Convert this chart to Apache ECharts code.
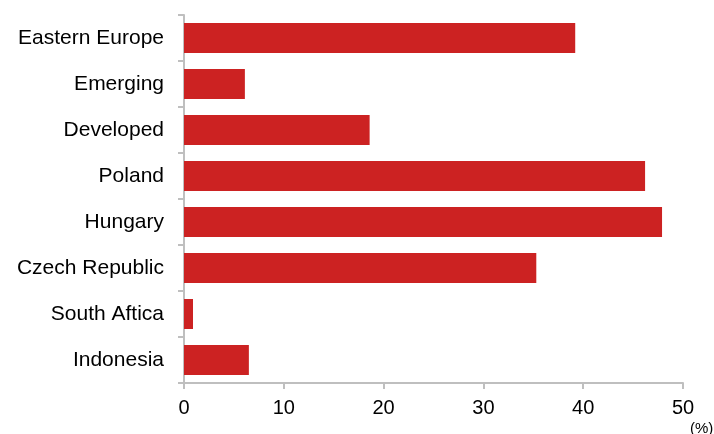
<!DOCTYPE html>
<html>
<head>
<meta charset="utf-8">
<script src="https://cdn.jsdelivr.net/npm/echarts@6/dist/echarts.min.js"></script>
<style>
  html, body { margin: 0; padding: 0; background: #fff; }
  #chart { width: 714px; height: 434px; }
</style>
</head>
<body>
<div id="chart"></div>
<script>
// categories top to bottom
var categories = ["Eastern Europe", "Emerging", "Developed", "Poland", "Hungary", "Czech Republic", "South Aftica", "Indonesia"];
var values = [39.2, 6.1, 18.6, 46.2, 47.9, 35.3, 0.9, 6.5];

var myChart = echarts.init(document.getElementById("chart"));
var axisGrey = "#bfbfbf";
var font = "Liberation Sans, Arial, sans-serif";

myChart.setOption({
  animation: false,
  grid: { left: 184, right: 31, top: 15, bottom: 51, containLabel: false },
  xAxis: {
    type: "value",
    min: 0,
    max: 50,
    interval: 10,
    splitLine: { show: false },
    axisLine: { show: true, lineStyle: { color: axisGrey, width: 2 } },
    axisTick: { show: true, length: 6, lineStyle: { color: axisGrey, width: 2 } },
    axisLabel: { color: "#000", fontSize: 20, fontFamily: font, margin: 15 }
  },
  yAxis: {
    type: "category",
    inverse: true,
    data: categories,
    axisLine: { show: true, lineStyle: { color: axisGrey, width: 2 } },
    axisTick: { show: true, length: 6, lineStyle: { color: axisGrey, width: 2 } },
    axisLabel: { color: "#000", fontSize: 21, fontFamily: font, margin: 20 }
  },
  graphic: [{
    type: "text",
    left: 690,
    top: 421,
    style: { text: "(%)", fill: "#000", fontSize: 15, fontFamily: font }
  }],
  series: [{
    type: "bar",
    data: values,
    barWidth: 30,
    itemStyle: { color: "#cc2222" }
  }]
});
</script>
</body>
</html>
